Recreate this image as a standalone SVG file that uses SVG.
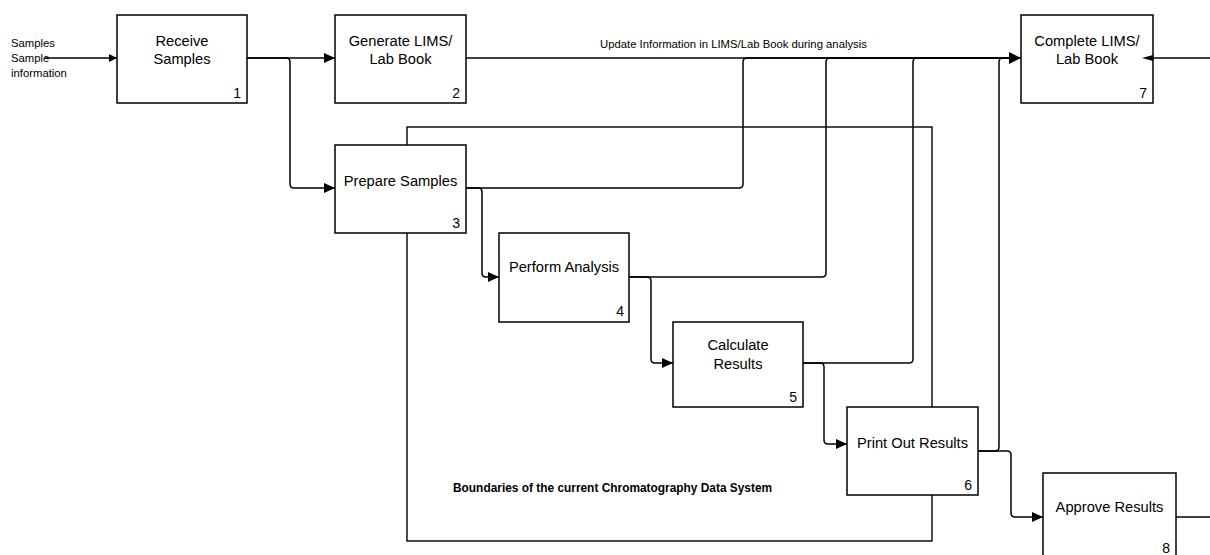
<svg xmlns="http://www.w3.org/2000/svg" width="1210" height="555" viewBox="0 0 1210 555">
<style>
.box{fill:#fff;stroke:#000;stroke-width:1.5}
.lbl{font-family:"Liberation Sans",Arial,sans-serif;font-size:14.7px;text-anchor:middle;fill:#000}
.num{font-family:"Liberation Sans",Arial,sans-serif;font-size:14px;text-anchor:end;fill:#000}
.small{font-family:"Liberation Sans",Arial,sans-serif;font-size:11.3px;fill:#000}
.bold{font-family:"Liberation Sans",Arial,sans-serif;font-size:11.9px;font-weight:bold;fill:#000}
.c{fill:none;stroke:#000;stroke-width:1.5}
.bound{fill:none;stroke:#000;stroke-width:1.4}
</style>
<defs>
<marker id="arr" markerUnits="userSpaceOnUse" markerWidth="11" markerHeight="10" refX="11" refY="5" orient="auto">
<path d="M0,0 L11,5 L0,10 z" fill="#000"/>
</marker>
<marker id="arrL" markerUnits="userSpaceOnUse" markerWidth="12" markerHeight="12" refX="12" refY="6" orient="auto">
<path d="M0,0 L12,6 L0,12 z" fill="#000"/>
</marker>
<marker id="arrS" markerUnits="userSpaceOnUse" markerWidth="8" markerHeight="8" refX="8" refY="4" orient="auto">
<path d="M0,0 L8,4 L0,8 z" fill="#000"/>
</marker>
</defs>

<g id="boundary">
<rect class="bound" x="407" y="127" width="525" height="414"/>
<text class="bold" x="453" y="492">Boundaries of the current Chromatography Data System</text>
</g>

<g id="connectors">
<path class="c" d="M45,58 H117" marker-end="url(#arrS)"/>
<path class="c" d="M247,58 H335" marker-end="url(#arr)"/>
<path class="c" d="M247,58 H286 Q290,58 290,62 V184 Q290,188 294,188 H335" marker-end="url(#arr)"/>
<path class="c" d="M466,58 H1021" marker-end="url(#arrL)"/>
<path class="c" d="M466,188 H739 Q743,188 743,184 V62 Q743,58 747,58 H1010"/>
<path class="c" d="M466,188 H478 Q482,188 482,192 V273 Q482,277 486,277 H499" marker-end="url(#arr)"/>
<path class="c" d="M629,277 H822 Q826,277 826,273 V62 Q826,58 830,58 H1010"/>
<path class="c" d="M629,277 H647 Q651,277 651,281 V359 Q651,363 655,363 H673" marker-end="url(#arr)"/>
<path class="c" d="M803,363 H909 Q913,363 913,359 V62 Q913,58 917,58 H1010"/>
<path class="c" d="M803,363 H820 Q824,363 824,367 V440 Q824,444 828,444 H847" marker-end="url(#arr)"/>
<path class="c" d="M978,451 H995 Q999,451 999,447 V62 Q999,58 1003,58 H1010"/>
<path class="c" d="M978,451 H1007 Q1011,451 1011,455 V513 Q1011,517 1015,517 H1043" marker-end="url(#arr)"/>
<path class="c" d="M1210,58 H1153"/>
<path class="c" d="M1176,517 H1210"/>
<text class="small" x="600" y="48">Update Information in LIMS/Lab Book during analysis</text>
<text class="small" x="11" y="47">Samples</text>
<text class="small" x="11" y="62">Sample</text>
<text class="small" x="11" y="77">information</text>
</g>

<g id="n1">
<rect class="box" x="117" y="15" width="130" height="88"/>
<text class="lbl" x="182" y="46">Receive</text>
<text class="lbl" x="182" y="64">Samples</text>
<text class="num" x="241" y="98">1</text>
</g>
<g id="n2">
<rect class="box" x="335" y="15" width="131" height="88"/>
<text class="lbl" x="400.5" y="46">Generate LIMS/</text>
<text class="lbl" x="400.5" y="64">Lab Book</text>
<text class="num" x="460" y="98">2</text>
</g>
<g id="n3">
<rect class="box" x="335" y="145" width="131" height="88"/>
<text class="lbl" x="400.5" y="186">Prepare Samples</text>
<text class="num" x="460" y="228">3</text>
</g>
<g id="n4">
<rect class="box" x="499" y="233" width="130" height="89"/>
<text class="lbl" x="564" y="272">Perform Analysis</text>
<text class="num" x="624" y="316">4</text>
</g>
<g id="n5">
<rect class="box" x="673" y="322" width="130" height="85"/>
<text class="lbl" x="738" y="350">Calculate</text>
<text class="lbl" x="738" y="369">Results</text>
<text class="num" x="797" y="402">5</text>
</g>
<g id="n6">
<rect class="box" x="847" y="407" width="131" height="88"/>
<text class="lbl" x="912.5" y="448">Print Out Results</text>
<text class="num" x="972" y="490">6</text>
</g>
<g id="n7">
<rect class="box" x="1021" y="15" width="132" height="88"/>
<text class="lbl" x="1087" y="46">Complete LIMS/</text>
<text class="lbl" x="1087" y="64">Lab Book</text>
<path d="M1142,58 L1153,55 L1153,61 z" fill="#000"/>
<text class="num" x="1147" y="98">7</text>
</g>
<g id="n8">
<rect class="box" x="1043" y="473" width="133" height="88"/>
<text class="lbl" x="1109.5" y="512">Approve Results</text>
<text class="num" x="1170" y="553">8</text>
</g>
</svg>
